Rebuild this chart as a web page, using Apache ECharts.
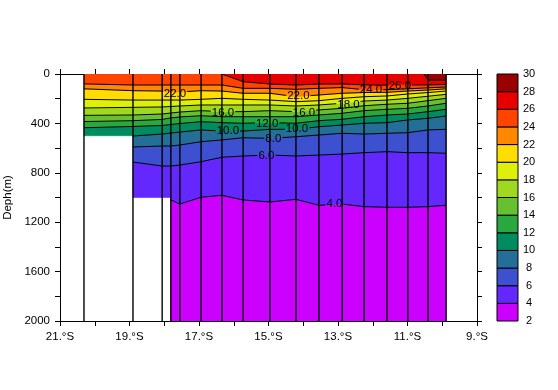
<!DOCTYPE html>
<html><head><meta charset="utf-8">
<script src="https://cdn.jsdelivr.net/npm/echarts@6/dist/echarts.min.js"></script>
<style>html,body{margin:0;padding:0;background:#fff}#c{width:558px;height:390px}</style>
</head><body><div id="c"></div>
<script>
// ---- data ----
const stationLat = [-20.31,-18.90,-18.06,-17.81,-17.55,-16.94,-16.34,-15.73,-14.96,-14.21,-13.55,-12.88,-12.25,-11.59,-10.99,-10.41,-9.89];
const stationMaxDepth = [500,1000,1000,2000,2000,2000,2000,2000,2000,2000,2000,2000,2000,2000,2000,2000,2000];
// isotherm depths (m) at each station; negative = isotherm lies above the sea surface there
const iso28 = [-300,-300,-300,-300,-300,-300,-300,-300,-300,-300,-300,-300,-300,-300,-200,49,49];
const iso26 = [-100,-100,-100,-100,-100,-40,0,62,81,89,81,80,88,90,88,88,85];
const iso24 = [80,89,89,89,89,89,89,116,116,124,116,110,127,127,120,112,105];
const iso22 = [120,135,138,146,146,135,138,156,156,184,170,156,150,148,138,130,120];
const iso20 = [205,211,211,211,211,205,197,205,211,224,216,197,184,178,162,150,138];
const iso18 = [275,270,267,263,259,251,251,251,251,259,251,237,219,211,197,180,165];
const iso16 = [335,332,324,316,308,297,305,305,297,305,291,278,257,245,237,216,197];
const iso14 = [385,378,368,356,348,338,346,346,346,346,332,318,297,286,278,259,237];
const iso12 = [435,425,417,409,401,386,394,399,394,399,378,367,346,332,324,305,286];
const iso10 = [535,502,486,478,470,453,462,462,448,448,427,413,399,394,372,359,340];
const iso8  = [615,591,583,583,575,548,534,516,521,508,494,480,486,480,475,453,448];
const iso6  = [780,713,745,745,737,710,674,664,656,664,656,648,637,629,637,637,642];
const iso4  = [1100,1100,1100,1020,1053,998,982,1020,1036,1015,1063,1053,1074,1079,1079,1074,1063];
const levels = [2,4,6,8,10,12,14,16,18,20,22,24,26,28,30];
const bandColors = ['#cc00ff','#6428ff','#3c50d0','#246e98','#008c60','#2aa840','#66c030','#a0d820','#ddf00a','#ffdd00','#ff8800','#ff4400','#e60000','#990000'];
const contourLevels = [4,6,8,10,12,14,16,18,20,22,24,26,28];
// contour labels: latitude, depth (m), text
const labelLat   = [-17.69,-16.31,-16.17,-15.04,-14.86,-15.06,-14.14,-13.98,-14.18,-12.70,-12.05,-11.22,-13.10];
const labelDepth = [158,312,462,405,526,664,178,312,445,251,130,96,1049];
const labelText  = ['22.0','16.0','10.0','12.0','8.0','6.0','22.0','16.0','10.0','18.0','24.0','26.0','4.0'];
const xTicks = [-21,-19,-17,-15,-13,-11,-9];

// ---- helpers ----
const isoByLevel = {4:iso4,6:iso6,8:iso8,10:iso10,12:iso12,14:iso14,16:iso16,18:iso18,20:iso20,22:iso22,24:iso24,26:iso26,28:iso28};
function isoDepth(level, i){
  if (level <= 2) return 1e5;
  if (level >= 30) return -1e5;
  return isoByLevel[level][i];
}
function clipHalf(pts, inside, d){
  const out = [];
  for (let k=0;k<pts.length;k++){
    const a = pts[k], b = pts[(k+1)%pts.length];
    const ia = inside(a), ib = inside(b);
    if (ia) out.push(a);
    if (ia !== ib){
      const t = (d - a[1])/(b[1]-a[1]);
      out.push([a[0]+t*(b[0]-a[0]), d]);
    }
  }
  return out;
}
function clipPoly(pts, lo, hi){
  let p = clipHalf(pts, q => q[1] >= lo, lo);
  if (p.length) p = clipHalf(p, q => q[1] <= hi, hi);
  return p;
}
function clipSeg(a, b, lo, hi){
  let t0 = 0, t1 = 1;
  const dy = b[1]-a[1];
  if (dy === 0){ if (a[1] < lo || a[1] > hi) return null; }
  else {
    let tl = (lo - a[1])/dy, th = (hi - a[1])/dy;
    let tmin = Math.min(tl,th), tmax = Math.max(tl,th);
    t0 = Math.max(t0, tmin); t1 = Math.min(t1, tmax);
    if (t0 >= t1) return null;
  }
  return [[a[0]+t0*(b[0]-a[0]), a[1]+t0*dy],[a[0]+t1*(b[0]-a[0]), a[1]+t1*dy]];
}
function labelWidth(t){ let w = 0; for (const ch of t) w += (ch === '.') ? 3.2 : 6.4; return w; }
const segData = [];
for (let i=0;i<stationLat.length-1;i++) segData.push([stationLat[i], stationLat[i+1], i]);
const FONT = '"Liberation Sans", Arial, Helvetica, sans-serif';

const chart = echarts.init(document.getElementById('c'), null, {renderer:'canvas'});
const axisCommon = {
  axisLine:{show:true, onZero:false, lineStyle:{color:'#000', width:1}},
  axisTick:{show:true, inside:false, length:5, lineStyle:{color:'#000', width:1}},
  splitLine:{show:false}
};
chart.setOption({
  animation:false,
  backgroundColor:'#fff',
  grid:[{left:60, top:74, width:417, height:247, containLabel:false, outerBoundsMode:'none'},
        {left:497, top:74, width:21, height:247, containLabel:false, outerBoundsMode:'none'}],
  xAxis:[
    Object.assign({gridIndex:0, type:'value', min:-21, max:-9, interval:1, position:'bottom',
      axisLabel:{color:'#000', fontSize:11.5, fontFamily:FONT, margin:10,
        formatter: v => xTicks.indexOf(Math.round(v)) >= 0 ? Math.abs(Math.round(v)) + '.°S' : ''}}, axisCommon),
    Object.assign({gridIndex:0, type:'value', min:-21, max:-9, interval:1, position:'top', axisLabel:{show:false}}, axisCommon),
    {gridIndex:1, type:'value', min:0, max:1, show:false}
  ],
  yAxis:[
    Object.assign({gridIndex:0, type:'value', inverse:true, min:0, max:2000, interval:200, position:'left',
      name:'Deph(m)', nameLocation:'middle', nameRotate:90, nameGap:45,
      nameTextStyle:{color:'#000', fontSize:11.5, fontFamily:FONT},
      axisLabel:{color:'#000', fontSize:11.5, fontFamily:FONT, margin:10,
        formatter: v => (Math.round(v) % 400 === 0) ? String(Math.round(v)) : ''}}, axisCommon),
    Object.assign({gridIndex:0, type:'value', inverse:true, min:0, max:2000, interval:200, position:'right', axisLabel:{show:false}}, axisCommon),
    {gridIndex:1, type:'value', min:2, max:30, interval:2, position:'right',
      axisLine:{show:false}, axisTick:{show:false}, splitLine:{show:false},
      axisLabel:{color:'#000', fontSize:11, fontFamily:FONT, align:'center', margin:11}}
  ],
  series:[
    { // filled bands
      type:'custom', xAxisIndex:0, yAxisIndex:0, clip:true, silent:true,
      data: segData, encode:{x:[0,1]},
      renderItem:(params, api) => {
        const i = params.dataIndex;
        const B = Math.min(stationMaxDepth[i], stationMaxDepth[i+1]);
        const children = [];
        for (let k=0;k<levels.length-1;k++){
          const lo = levels[k], hi = levels[k+1];
          const pts = [[stationLat[i], isoDepth(hi,i)],[stationLat[i+1], isoDepth(hi,i+1)],
                       [stationLat[i+1], isoDepth(lo,i+1)],[stationLat[i], isoDepth(lo,i)]];
          const c = clipPoly(pts, 0, B);
          if (c.length < 3) continue;
          children.push({type:'polygon', shape:{points:c.map(p => api.coord(p))},
            style:{fill:bandColors[k], stroke:bandColors[k], lineWidth:0.6}});
        }
        return {type:'group', children};
      }
    },
    { // contour lines (broken where their own label sits)
      type:'custom', xAxisIndex:0, yAxisIndex:0, clip:true, silent:true,
      data: segData, encode:{x:[0,1]},
      renderItem:(params, api) => {
        const i = params.dataIndex;
        const B = Math.min(stationMaxDepth[i], stationMaxDepth[i+1]);
        const children = [];
        contourLevels.forEach(L => {
          const s = clipSeg([stationLat[i], isoDepth(L,i)], [stationLat[i+1], isoDepth(L,i+1)], 0, B);
          if (!s) return;
          const a = api.coord(s[0]), b = api.coord(s[1]);
          // gaps for labels of this level
          const cuts = [];
          labelText.forEach((t, k) => {
            if (Math.abs(parseFloat(t) - L) > 0.01) return;
            const c = api.coord([labelLat[k], labelDepth[k]]);
            const hw = labelWidth(t)/2 + 1;
            cuts.push([c[0]-hw, c[0]+hw]);
          });
          const x0 = Math.min(a[0], b[0]), x1 = Math.max(a[0], b[0]);
          const yAt = x => (b[0] === a[0]) ? a[1] : a[1] + (x - a[0])*(b[1]-a[1])/(b[0]-a[0]);
          let pieces = [[x0, x1]];
          cuts.forEach(cu => {
            const np = [];
            pieces.forEach(p => {
              if (cu[1] <= p[0] || cu[0] >= p[1]) { np.push(p); return; }
              if (cu[0] > p[0]) np.push([p[0], cu[0]]);
              if (cu[1] < p[1]) np.push([cu[1], p[1]]);
            });
            pieces = np;
          });
          pieces.forEach(p => {
            if (b[0] === a[0]) { children.push({type:'line', shape:{x1:a[0], y1:a[1], x2:b[0], y2:b[1]}, style:{stroke:'#000', lineWidth:1}}); return; }
            children.push({type:'line', shape:{x1:p[0], y1:yAt(p[0]), x2:p[1], y2:yAt(p[1])}, style:{stroke:'#000', lineWidth:1}});
          });
        });
        return {type:'group', children};
      }
    },
    { // station lines
      type:'custom', xAxisIndex:0, yAxisIndex:0, clip:true, silent:true,
      data: stationLat.map(v => [v, 0]), encode:{x:0, y:1},
      renderItem:(params, api) => {
        const a = api.coord([api.value(0), 0]), b = api.coord([api.value(0), 2000]);
        return {type:'line', shape:{x1:a[0], y1:a[1], x2:b[0], y2:b[1]}, style:{stroke:'#000', lineWidth:1.4}};
      }
    },
    { // contour labels
      type:'custom', xAxisIndex:0, yAxisIndex:0, clip:true, silent:true,
      data: labelLat.map((v, k) => [v, labelDepth[k], k]), encode:{x:0, y:1},
      renderItem:(params, api) => {
        const p = api.coord([api.value(0), api.value(1)]);
        return {type:'text', x:p[0], y:p[1], style:{text:labelText[params.dataIndex], fill:'#000',
          font:'11.5px ' + FONT, align:'center', verticalAlign:'middle'}};
      }
    },
    { // colour bar
      type:'custom', xAxisIndex:2, yAxisIndex:2, silent:true,
      data: levels.slice(0,-1).map((v,k) => [0, v, k]), encode:{x:0, y:1},
      renderItem:(params, api) => {
        const k = params.dataIndex;
        const a = api.coord([0, levels[k+1]]), b = api.coord([1, levels[k]]);
        return {type:'rect', shape:{x:a[0], y:a[1], width:b[0]-a[0], height:b[1]-a[1]},
          style:{fill:bandColors[k], stroke:'#000', lineWidth:1}};
      }
    }
  ]
});
</script></body></html>
